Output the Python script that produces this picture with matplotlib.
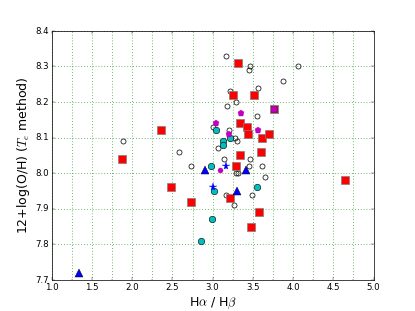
import matplotlib
matplotlib.use("Agg")
import matplotlib.pyplot as plt
from matplotlib.ticker import MultipleLocator

plt.style.use("classic")

# open circles
open_x = [3.17, 3.46, 3.45, 4.06, 3.88, 3.56, 3.22, 3.29, 3.18, 3.55, 3.20, 3.28, 3.30,
          1.88, 2.58, 3.06, 3.14, 3.47, 2.73, 3.45, 3.61, 3.29, 3.31, 3.65, 3.16, 3.49, 3.27, 3.01]
open_y = [8.33, 8.30, 8.29, 8.30, 8.26, 8.24, 8.23, 8.20, 8.19, 8.16, 8.12, 8.10, 8.09,
          8.09, 8.06, 8.07, 8.04, 8.04, 8.02, 8.02, 8.02, 8.00, 8.00, 7.99, 7.94, 7.94, 7.91, 8.13]

# red squares
sq_x = [3.32, 3.25, 3.52, 2.36, 3.34, 3.43, 3.44, 3.61, 3.70, 1.87, 3.34, 3.60,
        3.29, 4.64, 2.48, 2.73, 3.22, 3.57, 3.48]
sq_y = [8.31, 8.22, 8.22, 8.12, 8.14, 8.13, 8.11, 8.10, 8.11, 8.04, 8.05, 8.06,
        8.02, 7.98, 7.96, 7.92, 7.93, 7.89, 7.85]

# dark square under pentagon
dsq_x = [3.76]
dsq_y = [8.18]

# cyan circles
cy_x = [3.04, 3.22, 3.13, 3.13, 2.98, 3.02, 3.55, 2.99, 2.85]
cy_y = [8.12, 8.10, 8.09, 8.08, 8.02, 7.95, 7.96, 7.87, 7.81]

# magenta pentagons
pent_x = [3.35, 3.04, 3.56, 3.20, 3.76]
pent_y = [8.17, 8.14, 8.12, 8.11, 8.18]

# magenta circle
mc_x = [3.09]
mc_y = [8.01]

# blue triangles
tri_x = [2.91, 3.41, 3.30, 1.34]
tri_y = [8.01, 8.01, 7.95, 7.72]

# blue stars
star_x = [3.17, 3.00]
star_y = [8.02, 7.96]

fig = plt.figure(figsize=(8, 6), dpi=51.875)
ax = fig.add_subplot(111)

ax.plot(open_x, open_y, "o", mfc="none", mec="k", ms=7, mew=1.0)
ax.plot(sq_x, sq_y, "s", mfc="red", mec="0.5", ms=10, mew=1.0)
ax.plot(dsq_x, dsq_y, "s", mfc="#8e1848", mec="0.5", ms=10, mew=1.0)
ax.plot(cy_x, cy_y, "o", mfc="c", mec="k", ms=9, mew=0.8)
ax.plot(pent_x, pent_y, "p", mfc="m", mec="m", ms=9)
ax.plot(mc_x, mc_y, "o", mfc="m", mec="m", ms=7)
ax.plot(tri_x, tri_y, "^", mfc="b", mec="k", ms=10, mew=0.6)
ax.plot(star_x, star_y, "*", mfc="b", mec="b", ms=11)

ax.set_xlim(1.0, 5.0)
ax.set_ylim(7.7, 8.4)
ax.xaxis.set_major_locator(MultipleLocator(0.5))
ax.xaxis.set_minor_locator(MultipleLocator(0.25))
ax.yaxis.set_major_locator(MultipleLocator(0.1))
ax.xaxis.grid(True, which="both", color="g", linestyle=":", linewidth=1)
ax.yaxis.grid(True, which="major", color="g", linestyle=":", linewidth=1)
ax.set_axisbelow(True)

ax.set_xlabel(r"H$\alpha$ / H$\beta$", fontsize="x-large")
ax.set_ylabel(r"12+log(O/H) ($T_e$ method)", fontsize="x-large")

fig.savefig("out.png", dpi=51.875)
